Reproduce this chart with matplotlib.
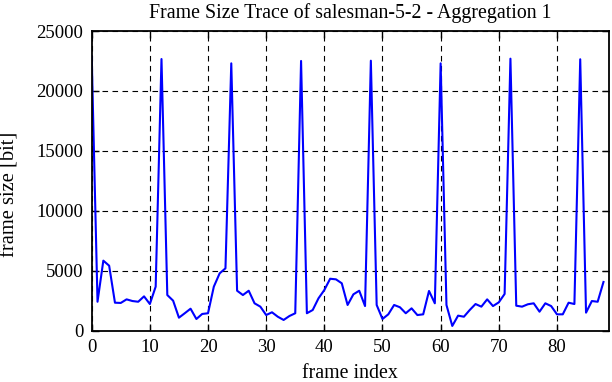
import matplotlib
matplotlib.use("Agg")
import matplotlib.pyplot as plt

# frame sizes in bit
frame_index = list(range(89))
frame_size = [
    22900, 2400, 5830, 5410, 2320, 2300, 2600, 2460, 2400, 2850,
    2210, 3660, 22660, 2960, 2490, 1070, 1440, 1820, 960, 1380,
    1440, 3660, 4770, 5190, 22300, 3320, 2960, 3320, 2270, 1990,
    1290, 1520, 1150, 880, 1210, 1440, 22500, 1440, 1710, 2690,
    3380, 4320, 4270, 3940, 2130, 3020, 3320, 2040, 22520, 2130,
    960, 1350, 2130, 1940, 1440, 1850, 1290, 1350, 3300, 2270,
    22300, 2130, 380, 1240, 1150, 1710, 2210, 1990, 2600, 2040,
    2350, 3050, 22690, 2070, 1990, 2190, 2270, 1570, 2270, 2040,
    1350, 1350, 2320, 2210, 22640, 1490, 2460, 2400, 4050,
]
x_ticks = [0, 10, 20, 30, 40, 50, 60, 70, 80]
y_ticks = [0, 5000, 10000, 15000, 20000, 25000]

plt.rcParams["font.family"] = ["Liberation Serif", "DejaVu Serif"]

W, H = 612, 382
fig = plt.figure(figsize=(W / 100, H / 100), dpi=100)
ax = fig.add_axes([91.7 / W, 1 - 330.5 / H, (609.3 - 91.7) / W, (330.5 - 31) / H])

ax.plot(frame_index, frame_size, color="#0000ff", lw=1.5)

ax.set_xlim(0, 89)
ax.set_ylim(0, 25000)
ax.set_xticks(x_ticks)
ax.set_yticks(y_ticks)
ax.grid(True, color="black", linestyle=(0, (5, 4)), lw=0.8)
ax.tick_params(direction="in", length=5, width=1, top=True, right=True,
               labelsize=13.5, pad=6)
for s in ax.spines.values():
    s.set_linewidth(1.3)

# labels placed in pixel positions like the gnuplot original
fig.text(350 / W, 1 - 374 / H, "frame index", fontsize=14.3, ha="center", va="center")
fig.text(1 / W, 1 - 194 / H, "frame size [bit]", fontsize=14.8, ha="left", va="center",
         rotation=90)
fig.text(350 / W, 1 - 13 / H, "Frame Size Trace of salesman-5-2 - Aggregation 1",
         fontsize=14.3, ha="center", va="center")

fig.savefig("out.png", dpi=100)
